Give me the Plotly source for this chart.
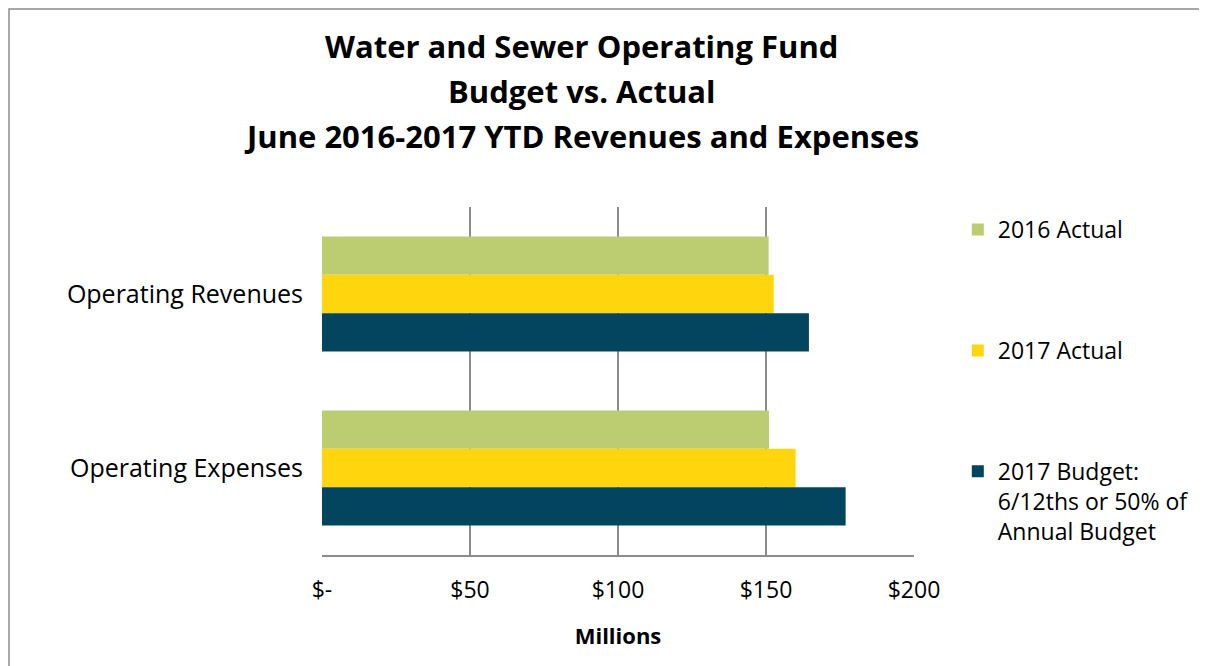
import plotly.graph_objects as go

categories = ["Operating Revenues", "Operating Expenses"]
series_names = ["2016 Actual", "2017 Actual", "2017 Budget:<br>6/12ths or 50% of<br>Annual Budget"]
actual_2016 = [150.9, 151.0]
actual_2017 = [152.6, 160.0]
budget_2017 = [164.5, 176.9]
tick_vals = [0, 50, 100, 150, 200]
tick_text = ["$-", "$50", "$100", "$150", "$200"]
title_lines = ["Water and Sewer Operating Fund", "Budget vs. Actual",
               "June 2016-2017 YTD Revenues and Expenses"]
colors = ["#BBCC71", "#FFD60E", "#03445E"]

FONT = "'Open Sans', Lato, sans-serif"

fig = go.Figure()
for i, (name, vals) in enumerate(zip(series_names, [actual_2016, actual_2017, budget_2017])):
    fig.add_trace(go.Bar(
        y=categories, x=vals, name=name, orientation="h",
        marker=dict(color=colors[i], line=dict(width=0)),
        legendgroup=f"g{i}",
    ))

title_y = [1.4626, 1.3333, 1.204]
annotations = [
    dict(text=f"<b>{t}</b>", x=0.439, y=yy, xref="paper", yref="paper",
         xanchor="center", yanchor="middle", showarrow=False,
         font=dict(family=FONT, size=31, color="black"))
    for t, yy in zip(title_lines, title_y)
]

fig.update_layout(
    width=1207, height=666,
    margin=dict(l=314, r=301, t=199, b=119),
    paper_bgcolor="white", plot_bgcolor="white",
    barmode="group", bargap=0.34, bargroupgap=0,
    font=dict(family=FONT, size=23, color="black"),
    annotations=annotations,
    legend=dict(
        x=1.074, y=0.997, xanchor="left", yanchor="top",
        traceorder="grouped", tracegroupgap=88, valign="top",
        font=dict(family=FONT, size=23, color="black"),
        itemwidth=30,
    ),
    xaxis=dict(
        range=[0, 200], tickvals=tick_vals, ticktext=tick_text,
        showgrid=True, gridcolor="#8C8C8C", gridwidth=1.5,
        showline=True, linecolor="#8C8C8C", linewidth=1.5,
        zeroline=False, ticks="", ticklabelstandoff=14,
        title=dict(text="<b>Millions</b>", font=dict(family=FONT, size=22), standoff=24),
        tickfont=dict(size=23),
    ),
    yaxis=dict(
        autorange="reversed", showgrid=False, showline=False, zeroline=False,
        ticks="", ticklabelstandoff=18, tickfont=dict(size=25),
    ),
    shapes=[dict(
        type="rect", xref="paper", yref="paper",
        x0=-0.5287, x1=1.483, y0=-0.5, y1=1.569,
        line=dict(color="#8C8C8C", width=1.5), fillcolor="rgba(0,0,0,0)", layer="below",
    )],
)

fig.write_html("out.html")
